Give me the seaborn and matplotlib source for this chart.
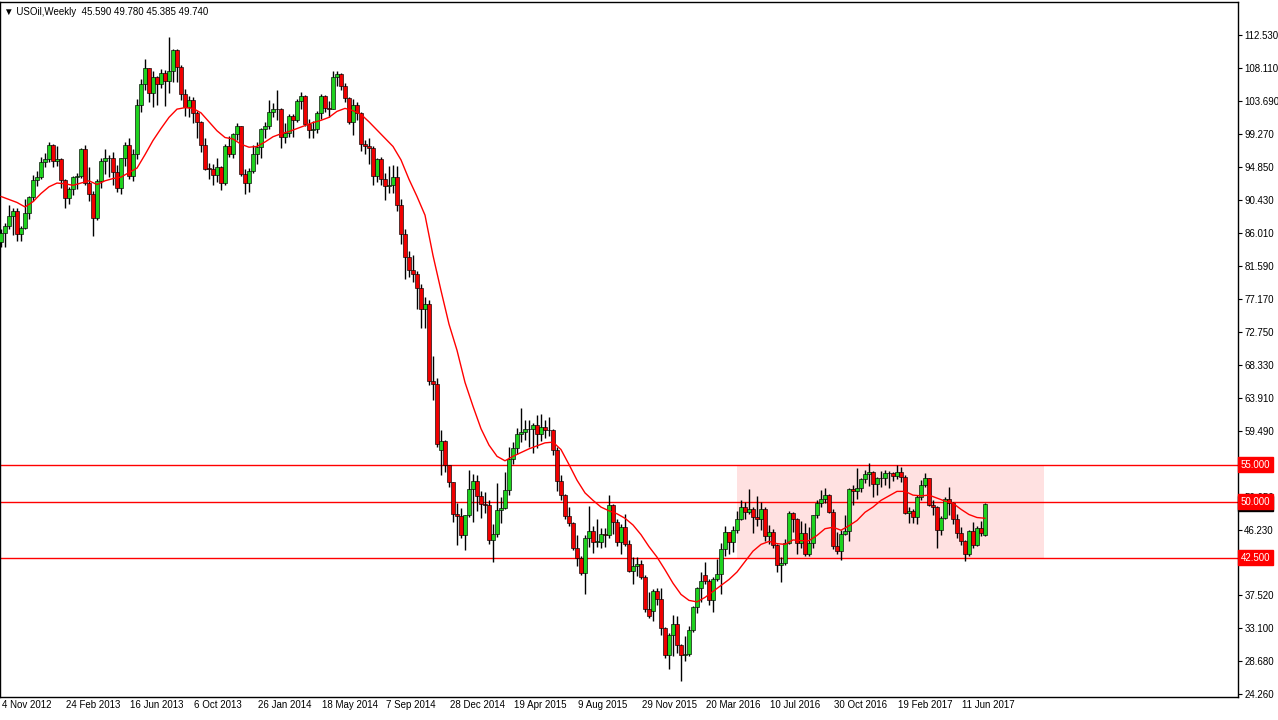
import numpy as np
import pandas as pd
import matplotlib
matplotlib.use("Agg")
import matplotlib.pyplot as plt
import matplotlib.transforms as mtransforms
import seaborn as sns

# -----------------------------
# Weekly USOil candles, bar 0 = week of 4 Nov 2012
# -----------------------------
opens = [
    84.86, 86.07, 86.92, 88.28, 88.91, 85.93, 86.73, 88.66,                      # 2012
    90.80, 93.09, 93.56, 95.56, 95.88, 97.77, 95.72, 95.86, 93.13, 90.68,        # 2013
    91.95, 93.45, 93.71, 97.23, 92.70, 91.29, 88.01, 93.00, 95.61, 96.04,
    96.02, 94.15, 91.97, 96.03, 97.85, 93.69, 96.56, 103.22, 105.95, 108.05,
    104.70, 106.94, 106.03, 107.46, 106.42, 107.65, 110.53, 108.21, 104.67, 102.87,
    103.84, 102.02, 100.81, 97.85, 94.61, 94.60, 93.84, 94.84, 92.72, 97.65,
    96.60, 99.32,
    100.32, 93.96, 92.72, 94.37, 96.64, 97.49, 99.88, 100.30, 102.20, 102.59,   # 2014
    102.58, 98.89, 99.46, 101.67, 101.14, 103.74, 104.30, 100.60, 99.76, 99.99,
    102.02, 104.35, 102.71, 102.66, 106.91, 107.26, 105.74, 104.06, 100.83, 103.13,
    102.09, 97.88, 97.65, 97.35, 93.65, 95.96, 93.29, 92.27, 92.41, 93.54,
    89.74, 85.82, 82.75, 81.01, 80.54, 78.65, 75.82, 76.51, 66.15, 65.84,
    56.90, 58.10,
    54.90, 52.69, 48.40, 48.10, 45.59, 48.24, 51.69, 52.78, 50.81, 49.76,       # 2015
    49.61, 44.84, 45.72, 48.87, 49.14, 51.64, 55.74, 57.15, 59.15, 59.39,
    59.69, 59.72, 60.30, 59.13, 59.96, 59.61, 59.63, 56.93, 52.74, 50.89,
    48.14, 47.12, 43.87, 42.50, 40.45, 45.22, 46.05, 44.63, 44.68, 45.70,
    45.54, 49.63, 47.26, 44.60, 46.59, 44.29, 40.80, 41.40, 41.71, 39.97,
    35.62, 35.40, 38.10,
    37.04, 33.16, 29.42, 32.19, 33.62, 30.89, 29.44, 29.64, 32.78, 35.92,       # 2016
    38.50, 40.20, 39.46, 36.79, 39.72, 40.36, 43.73, 45.92, 44.66, 46.21,
    47.75, 49.33, 48.62, 49.07, 47.98, 47.64, 48.99, 45.41, 45.95, 44.19,
    41.60, 41.80, 44.49, 48.52, 47.64, 44.44, 45.88, 43.03, 44.48, 48.24,
    49.81, 50.35, 50.85, 48.70, 44.07, 43.41, 45.69, 46.06, 51.68, 51.50,
    51.90, 53.02,
    53.72, 53.99, 52.37, 53.22, 53.17, 53.83, 53.86, 53.40, 53.99, 53.33,       # 2017
    48.49, 48.78, 47.97, 50.60, 52.24, 53.18, 49.62, 49.33, 46.22, 47.84,
    50.33, 49.80, 47.66, 45.83, 44.74, 43.01, 46.04, 44.23, 46.54, 45.59,
]
highs = [
    86.60, 87.40, 89.80, 89.30, 89.40, 87.00, 90.50, 91.00,
    93.80, 94.30, 96.20, 96.70, 98.20, 97.90, 97.70, 96.10, 93.30, 92.20,
    93.70, 94.00, 97.40, 97.80, 94.90, 91.60, 93.30, 96.00, 97.30, 96.40,
    96.90, 95.10, 96.10, 98.20, 98.70, 97.30, 103.90, 106.60, 109.30, 108.10,
    107.70, 107.00, 108.00, 107.80, 112.20, 110.70, 110.60, 108.50, 105.30, 104.40,
    104.20, 102.40, 101.00, 98.70, 95.40, 95.30, 96.00, 95.00, 97.90, 99.00,
    99.40, 100.80,
    100.40, 94.60, 94.70, 97.80, 98.20, 100.10, 100.90, 103.80, 103.40, 105.20,
    102.80, 100.80, 101.90, 102.00, 104.00, 104.90, 104.50, 101.30, 101.00, 102.30,
    104.60, 104.50, 103.70, 107.70, 107.70, 107.50, 106.10, 104.20, 104.00, 103.60,
    102.20, 98.40, 98.70, 97.70, 96.00, 96.20, 94.00, 95.00, 95.10, 95.00,
    90.60, 86.50, 83.60, 83.00, 80.90, 79.20, 77.50, 77.00, 69.50, 66.60,
    59.60, 58.30,
    55.00, 52.70, 49.90, 49.20, 48.30, 54.20, 53.70, 53.60, 51.40, 51.30,
    50.30, 47.00, 52.50, 50.60, 54.00, 57.40, 58.00, 59.90, 62.60, 61.00,
    60.90, 60.60, 61.60, 61.80, 61.00, 61.30, 59.70, 57.30, 53.60, 51.00,
    49.30, 47.30, 45.50, 42.70, 45.50, 49.50, 46.80, 47.70, 46.50, 46.50,
    50.90, 49.70, 47.70, 47.00, 48.40, 44.90, 42.60, 42.60, 42.20, 40.20,
    37.90, 38.30, 38.40,
    38.40, 33.20, 32.40, 34.80, 34.70, 31.00, 32.00, 33.40, 36.00, 38.60,
    40.60, 41.90, 39.60, 39.90, 42.40, 44.50, 46.80, 46.00, 46.70, 48.80,
    50.20, 50.00, 51.70, 49.30, 50.80, 50.00, 49.30, 46.90, 46.30, 44.30,
    42.60, 45.00, 48.80, 48.60, 47.80, 47.50, 47.20, 46.60, 48.30, 50.20,
    51.60, 51.90, 51.10, 49.00, 45.90, 46.20, 48.20, 51.80, 52.30, 54.50,
    53.20, 54.30,
    55.20, 54.10, 53.30, 54.10, 54.30, 54.10, 54.00, 54.90, 54.60, 53.60,
    49.30, 49.10, 50.90, 52.90, 53.80, 53.20, 50.30, 49.50, 48.10, 50.60,
    52.00, 50.00, 48.40, 46.60, 44.90, 46.20, 47.30, 46.70, 47.40, 49.78,
]
lows = [
    84.10, 84.10, 86.50, 85.70, 84.90, 84.90, 86.60, 87.90,
    90.30, 92.30, 93.20, 94.90, 95.50, 94.90, 95.00, 92.00, 89.30, 89.90,
    91.10, 91.90, 93.40, 92.50, 90.30, 85.60, 87.70, 92.10, 93.90, 93.50,
    92.50, 91.50, 91.20, 95.00, 93.30, 93.00, 95.90, 102.20, 105.20, 103.50,
    102.90, 103.10, 105.40, 103.00, 104.80, 106.30, 106.30, 103.80, 101.70, 101.50,
    100.80, 98.80, 96.90, 94.50, 93.20, 92.50, 92.80, 91.80, 92.50, 96.20,
    96.10, 98.40,
    93.70, 91.20, 91.50, 94.10, 95.20, 96.10, 98.70, 99.90, 101.60, 101.20,
    97.40, 98.10, 98.90, 98.90, 100.90, 102.60, 100.40, 98.70, 98.80, 99.40,
    101.30, 102.20, 101.60, 102.60, 105.70, 105.20, 103.60, 100.60, 99.20, 101.10,
    97.00, 96.60, 95.20, 92.50, 92.80, 92.50, 90.40, 91.40, 91.40, 88.90,
    84.50, 79.80, 80.10, 79.40, 75.80, 73.30, 73.30, 65.70, 63.70, 57.30,
    53.60, 54.00,
    52.00, 47.30, 44.20, 45.20, 43.60, 48.00, 47.30, 48.80, 47.90, 48.50,
    44.40, 42.00, 45.30, 47.10, 49.00, 50.90, 55.10, 56.40, 58.00, 58.30,
    57.30, 56.50, 57.20, 58.20, 58.60, 58.80, 56.30, 51.40, 50.20, 47.70,
    46.70, 43.60, 41.40, 40.20, 37.70, 44.00, 43.20, 43.90, 43.80, 43.90,
    45.10, 45.70, 44.10, 43.00, 44.10, 40.60, 39.00, 40.10, 39.60, 35.30,
    34.50, 34.00, 36.20,
    32.10, 29.10, 27.60, 29.30, 29.80, 26.00, 28.70, 29.40, 32.60, 35.10,
    36.60, 39.00, 36.20, 35.20, 39.40, 37.60, 42.70, 43.00, 43.30, 45.80,
    47.60, 47.70, 48.40, 45.80, 46.70, 46.20, 44.80, 44.40, 43.80, 40.60,
    39.20, 41.50, 44.30, 46.00, 43.00, 43.80, 42.80, 42.80, 43.80, 47.90,
    49.30, 49.90, 48.50, 43.70, 43.00, 42.20, 45.50, 44.80, 49.60, 50.40,
    51.30, 52.50,
    52.10, 50.70, 50.90, 52.00, 52.30, 51.80, 52.80, 53.00, 52.60, 48.40,
    47.10, 47.10, 47.00, 50.30, 52.00, 49.50, 48.20, 43.80, 45.50, 47.70,
    48.20, 47.00, 45.20, 44.20, 42.10, 42.80, 43.80, 44.10, 45.40, 45.385,
]
closes = [
    86.07, 86.92, 88.28, 88.91, 85.93, 86.73, 88.66, 90.80,
    93.09, 93.56, 95.56, 95.88, 97.77, 95.72, 95.86, 93.13, 90.68, 91.95,
    93.45, 93.71, 97.23, 92.70, 91.29, 88.01, 93.00, 95.61, 96.04, 96.02,
    94.15, 91.97, 96.03, 97.85, 93.69, 96.56, 103.22, 105.95, 108.05, 104.70,
    106.94, 106.03, 107.46, 106.42, 107.65, 110.53, 108.21, 104.67, 102.87, 103.84,
    102.02, 100.81, 97.85, 94.61, 94.60, 93.84, 94.84, 92.72, 97.65, 96.60,
    99.32, 100.32,
    93.96, 92.72, 94.37, 96.64, 97.49, 99.88, 100.30, 102.20, 102.59, 102.58,
    98.89, 99.46, 101.67, 101.14, 103.74, 104.30, 100.60, 99.76, 99.99, 102.02,
    104.35, 102.71, 102.66, 106.91, 107.26, 105.74, 104.06, 100.83, 103.13, 102.09,
    97.88, 97.65, 97.35, 93.65, 95.96, 93.29, 92.27, 92.41, 93.54, 89.74,
    85.82, 82.75, 81.01, 80.54, 78.65, 75.82, 76.51, 66.15, 65.84, 57.81,
    58.10, 54.90,
    52.69, 48.36, 48.10, 45.59, 48.24, 51.69, 52.78, 50.81, 49.76, 49.61,
    44.84, 45.72, 48.87, 49.14, 51.64, 55.74, 57.15, 59.15, 59.39, 59.69,
    59.72, 60.30, 59.13, 59.96, 59.61, 59.63, 56.93, 52.74, 50.89, 48.14,
    47.12, 43.87, 42.50, 40.45, 45.22, 46.05, 44.63, 44.68, 45.70, 45.54,
    49.63, 47.26, 44.60, 46.59, 44.29, 40.74, 41.40, 41.71, 39.97, 35.62,
    34.73, 38.10, 37.04,
    33.16, 29.42, 32.19, 33.62, 30.89, 29.44, 29.64, 32.78, 35.92, 38.50,
    39.44, 39.46, 36.79, 39.72, 40.36, 43.73, 45.92, 44.66, 46.21, 47.75,
    49.33, 48.62, 49.07, 47.98, 47.64, 48.99, 45.41, 45.95, 44.19, 41.60,
    41.80, 44.49, 48.52, 47.64, 44.44, 45.88, 43.03, 44.48, 48.24, 49.81,
    50.35, 50.85, 48.70, 44.07, 43.41, 45.69, 46.06, 51.68, 51.50, 51.90,
    53.02, 53.72,
    53.99, 52.37, 53.22, 53.17, 53.83, 53.86, 53.40, 53.99, 53.33, 48.49,
    48.78, 47.97, 50.60, 52.24, 53.18, 49.62, 49.33, 46.22, 47.84, 50.33,
    49.80, 47.66, 45.83, 44.74, 43.01, 46.04, 44.23, 46.54, 45.77, 49.74,
]

# red moving average, one value every 2 weeks
ma_values = [
    90.9, 90.5, 90.1, 89.5, 90.2, 91.3, 92.2, 92.7, 92.6, 92.4,
    92.7, 93.0, 92.5, 93.0, 93.3, 93.5, 94.1, 94.7, 96.5, 98.4,
    100.0, 101.5, 102.6, 102.8, 102.7, 102.1, 100.9, 99.7, 98.8, 98.6,
    97.9, 97.5, 97.6, 98.2, 98.9, 99.3, 99.6, 100.0, 100.4, 100.8,
    101.1, 101.5, 102.3, 102.7, 102.4, 101.9, 100.9, 99.8, 98.7, 97.6,
    95.8, 93.2, 90.9, 88.4, 83.0, 78.3, 73.8, 70.3, 66.0, 62.8,
    59.8, 57.6, 56.1, 55.5, 56.1, 56.6, 57.1, 57.5, 57.9, 58.0,
    57.0, 55.0, 52.9, 51.2, 50.2, 49.3, 48.8, 48.4, 47.8, 46.9,
    45.6, 44.0, 42.6, 40.9, 39.1, 37.6, 36.8, 36.6, 37.2, 38.0,
    38.8, 39.6, 40.6, 42.0, 43.4, 44.3, 44.7, 44.4, 44.3, 44.9,
    44.8, 44.8, 45.5, 46.4, 46.6, 46.2, 46.8, 47.5, 48.6, 49.3,
    50.2, 50.8, 51.4, 51.4, 50.9, 50.8, 50.9, 50.5, 50.1, 49.8,
    49.0, 48.3, 47.9, 47.8,
]
ma_weeks = list(range(0, 2 * len(ma_values), 2))

date_labels = ["4 Nov 2012", "24 Feb 2013", "16 Jun 2013", "6 Oct 2013",
               "26 Jan 2014", "18 May 2014", "7 Sep 2014", "28 Dec 2014",
               "19 Apr 2015", "9 Aug 2015", "29 Nov 2015", "20 Mar 2016",
               "10 Jul 2016", "30 Oct 2016", "19 Feb 2017", "11 Jun 2017"]
date_label_weeks = [0, 16, 32, 48, 64, 80, 96, 112, 128, 144, 160, 176, 192, 208, 224, 240]

price_ticks = [112.53, 108.11, 103.69, 99.27, 94.85, 90.43, 86.01, 81.59, 77.17,
               72.75, 68.33, 63.91, 59.49, 50.65, 46.23, 41.94, 37.52,
               33.10, 28.68, 24.26]
levels = [55.0, 50.0, 42.5]
last_close = 49.74
zone_weeks = [184, 260.75]
zone_prices = [42.5, 55.0]
header = "\u25bc USOil,Weekly  45.590 49.780 45.385 49.740"

df = pd.DataFrame({"open": opens, "high": highs, "low": lows, "close": closes})
df["week"] = np.arange(len(df))
ma = pd.DataFrame({"week": ma_weeks, "ma": ma_values})

# -----------------------------
# Figure
# -----------------------------
sns.set_style("white")
plt.rcParams["font.family"] = ["Liberation Sans", "DejaVu Sans"]

W, H = 1278, 720
fig = plt.figure(figsize=(W / 100, H / 100), dpi=100)
ax = fig.add_axes([0, 23 / H, 1238 / W, 695 / H])

GREEN = "#1ed21e"
RED = "#f00000"
FS = 7

# support / resistance zone
ax.fill_between(zone_weeks, zone_prices[0], zone_prices[1], color="#ffe1e1", lw=0, zorder=0)
for lv in levels:
    ax.axhline(lv, color="#ff0000", lw=1, zorder=1)

# wicks
ax.vlines(df["week"], df["low"], df["high"], color="black", lw=1, zorder=2)

# bodies
up = df["close"] >= df["open"]
body_lo = df[["open", "close"]].min(axis=1)
body_h = (df["close"] - df["open"]).abs().clip(lower=0.07)
ax.bar(df["week"][up], body_h[up], bottom=body_lo[up], width=0.8,
       color=GREEN, edgecolor="black", linewidth=0.45, zorder=3)
ax.bar(df["week"][~up], body_h[~up], bottom=body_lo[~up], width=0.8,
       color=RED, edgecolor="black", linewidth=0.45, zorder=3)

# moving average
sns.lineplot(data=ma, x="week", y="ma", color="#ff0000", lw=1, ax=ax, zorder=4)

# -----------------------------
# Axes
# -----------------------------
ax.set_xlim(-0.25, 309.25)
ax.set_ylim(23.86, 116.95)
ax.set_xlabel("")
ax.set_ylabel("")
for sp in ax.spines.values():
    sp.set_color("black")
    sp.set_linewidth(1)

ax.yaxis.tick_right()
ax.set_yticks(price_ticks)
ax.set_yticklabels([f"{v:.3f}" for v in price_ticks])
ax.tick_params(axis="y", direction="out", length=3, width=0.8, pad=1.5,
               labelsize=FS, colors="black")

ax.set_xticks(date_label_weeks)
ax.set_xticklabels([])
ax.tick_params(axis="x", direction="out", length=5, width=0.8)
tr = mtransforms.blended_transform_factory(ax.transData, ax.transAxes)
for wk, lab in zip(date_label_weeks, date_labels):
    ax.annotate(lab, xy=(wk, 0), xycoords=tr, xytext=(1, -2), textcoords="offset points",
                ha="left", va="top", fontsize=FS, color="black", annotation_clip=False)

# price boxes on the right scale
tr_y = mtransforms.blended_transform_factory(ax.transAxes, ax.transData)
ax.annotate(f"{last_close:.3f}", xy=(1, last_close), xycoords=tr_y, xytext=(2, 0),
            textcoords="offset points", ha="left", va="center", fontsize=FS, color="white",
            bbox=dict(boxstyle="square,pad=0.25", fc="black", ec="black"),
            annotation_clip=False, zorder=10)
for lv in levels:
    ax.annotate(f"{lv:.3f}", xy=(1, lv), xycoords=tr_y, xytext=(2, 0),
                textcoords="offset points", ha="left", va="center", fontsize=FS,
                color="white", bbox=dict(boxstyle="square,pad=0.25", fc="#ff0000", ec="#ff0000"),
                annotation_clip=False, zorder=11)

fig.text(4 / W, 1 - 12 / H, header, fontsize=FS, va="center", ha="left", color="black")

fig.savefig("out.png", dpi=100)
